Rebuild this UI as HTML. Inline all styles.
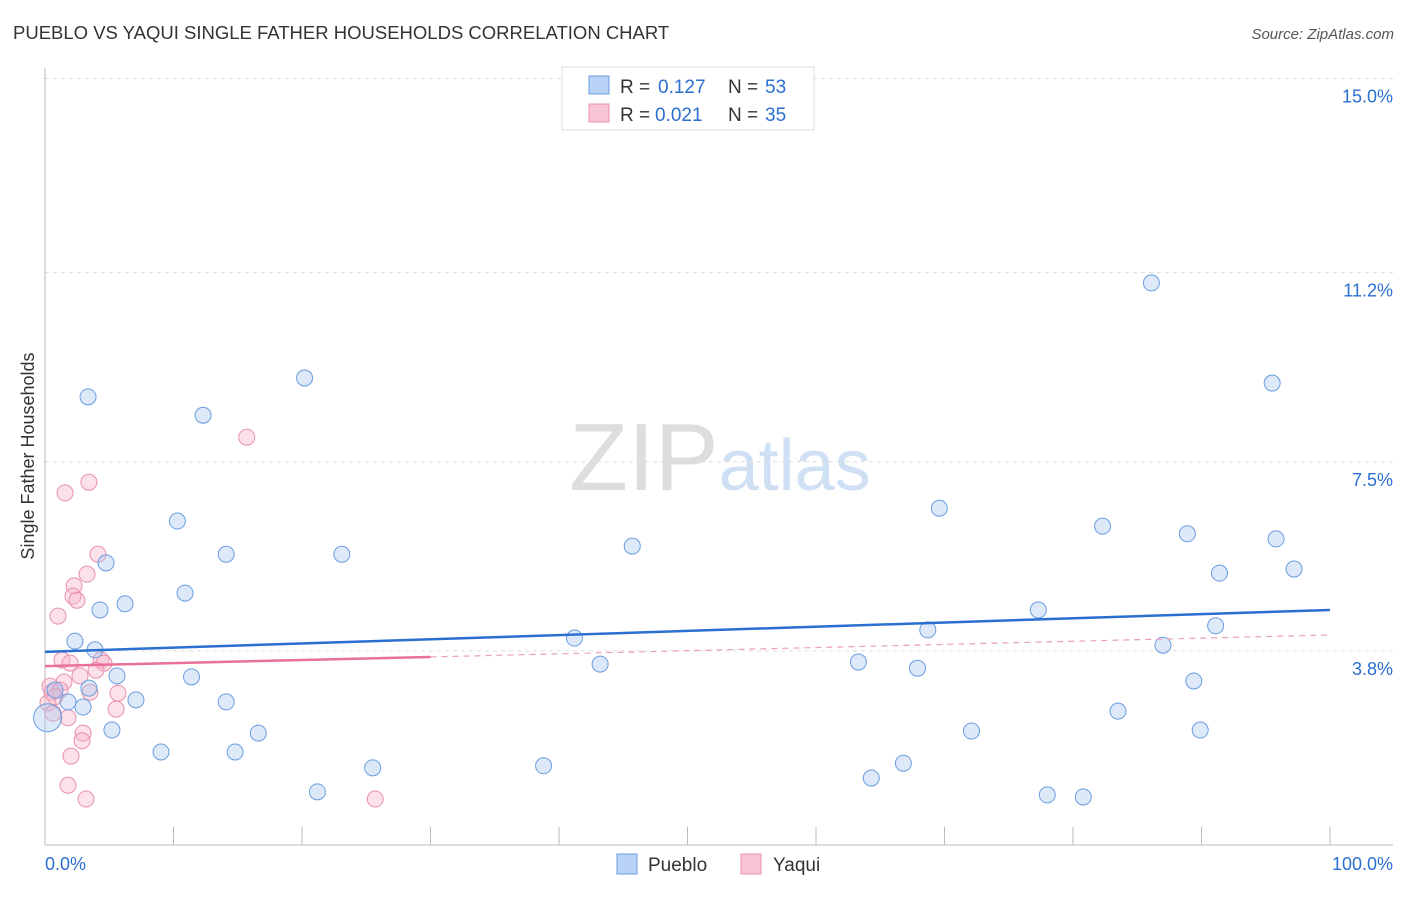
<!DOCTYPE html>
<html><head><meta charset="utf-8"><style>
body{margin:0;background:#fff;font-family:"Liberation Sans",sans-serif;}
svg text{font-family:"Liberation Sans",sans-serif;}
</style></head><body>
<svg id="chart" width="1406" height="892" xmlns="http://www.w3.org/2000/svg">
<text x="13" y="39" font-size="18.5" fill="#333">PUEBLO VS YAQUI SINGLE FATHER HOUSEHOLDS CORRELATION CHART</text>
<text x="1394" y="39" font-size="15" fill="#555" text-anchor="end" font-style="italic">Source: ZipAtlas.com</text>
<text x="720" y="490" font-size="96" text-anchor="middle" fill="#ddd" font-family="Liberation Serif">ZIP<tspan fill="#cfe0f5" font-family="Liberation Sans" font-size="72">atlas</tspan></text>
<g id="grid"></g>
<g id="axes"></g>
<g id="marks"></g>
<g id="trends"></g>
<text transform="translate(34,456) rotate(-90)" font-size="18" fill="#333" text-anchor="middle">Single Father Households</text>
<g>
<rect x="562" y="67" width="252" height="63" fill="#fff" stroke="#ddd"/>
<rect x="589" y="76" width="20" height="18" fill="#b8d3f5" stroke="#6a9de0"/>
<text x="620" y="93" font-size="19" fill="#333">R = </text>
<text x="658" y="93" font-size="19" fill="#2b6fd1">0.127</text>
<text x="728" y="93" font-size="19" fill="#333">N = </text>
<text x="765" y="93" font-size="19" fill="#2b6fd1">53</text>
<rect x="589" y="104" width="20" height="18" fill="#f8c4d4" stroke="#e890ae"/>
<text x="620" y="121" font-size="19" fill="#333">R = </text>
<text x="655" y="121" font-size="19" fill="#2b6fd1">0.021</text>
<text x="728" y="121" font-size="19" fill="#333">N = </text>
<text x="765" y="121" font-size="19" fill="#2b6fd1">35</text>
</g>
<g>
<rect x="617" y="854" width="20" height="20" fill="#b8d3f5" stroke="#6a9de0"/>
<text x="648" y="871" font-size="19" fill="#333">Pueblo</text>
<rect x="741" y="854" width="20" height="20" fill="#f8c4d4" stroke="#e890ae"/>
<text x="773" y="871" font-size="19" fill="#333">Yaqui</text>
</g>
</svg>
<script>
const yTicks=[15.0,11.2,7.5,3.8];
const yTickLabels=["15.0%","11.2%","7.5%","3.8%"];
const xTickLabels=["0.0%","100.0%"];
const puebloX=[3.35,12.3,20.2,86.1,95.5,10.3,14.1,23.1,4.75,45.7,69.6,82.3,88.9,95.8,91.4,97.2,10.9,6.23,4.28,77.3,41.2,68.7,91.1,87.0,2.33,3.89,43.2,63.3,67.9,5.60,11.4,89.4,3.42,0.78,7.08,14.1,1.79,2.96,83.5,5.21,16.6,72.1,89.9,9.03,14.8,25.5,38.8,66.8,64.3,21.2,78.0,80.8,0.2];
const puebloY=[8.77,8.41,9.14,11.0,9.04,6.34,5.69,5.69,5.52,5.85,6.59,6.24,6.09,5.99,5.32,5.40,4.93,4.72,4.60,4.60,4.05,4.21,4.29,3.91,3.99,3.82,3.54,3.58,3.46,3.31,3.29,3.21,3.07,3.03,2.84,2.80,2.80,2.70,2.62,2.25,2.19,2.23,2.25,1.82,1.82,1.51,1.55,1.60,1.31,1.04,0.98,0.94,2.49];
const yaquiX=[15.7,3.42,1.56,4.12,3.27,2.26,2.18,2.49,1.01,1.32,1.95,4.36,4.59,3.97,2.72,1.48,0.39,0.54,1.17,0.78,3.50,5.68,5.53,1.79,2.96,2.88,2.02,1.79,3.19,25.7,0.23,0.62];
const yaquiY=[7.98,7.10,6.89,5.69,5.30,5.07,4.87,4.79,4.48,3.62,3.56,3.62,3.56,3.42,3.31,3.19,3.11,2.99,3.03,2.90,2.99,2.97,2.66,2.49,2.19,2.04,1.74,1.17,0.90,0.90,2.78,2.58];
const puebloTrend=[3.78,4.60];
const yaquiTrend=[3.50,3.68,4.11];
const X=v=>45+v*12.85, Y=v=>845-v*51.1;
const NS="http://www.w3.org/2000/svg";
function mk(tag,attrs,parent){const e=document.createElementNS(NS,tag);for(const k in attrs)e.setAttribute(k,attrs[k]);parent.appendChild(e);return e;}
const grid=document.getElementById('grid'),axes=document.getElementById('axes'),marks=document.getElementById('marks'),trends=document.getElementById('trends');
yTicks.forEach((t,i)=>{
 const l=mk('line',{x1:45,x2:1393,y1:Y(t),y2:Y(t),stroke:'#ddd','stroke-dasharray':'4,4'},grid);
 
 
 const tx=mk('text',{x:1393,y:Y(t)+24,'font-size':18,fill:'#2b6fd1','text-anchor':'end'},axes);
 tx.textContent=yTickLabels[i];
 
 
});
mk('line',{x1:45,x2:45,y1:68,y2:845,stroke:'#bbb'},axes);
mk('line',{x1:45,x2:1393,y1:845,y2:845,stroke:'#bbb'},axes);
for(let i=0;i<=10;i++){const t=mk('line',{x1:X(i*10),x2:X(i*10),y1:827,y2:845,stroke:'#bbb'},axes);
 
 }
const xl0=mk('text',{x:45,y:870,'font-size':18,fill:'#2b6fd1'},axes);xl0.textContent=xTickLabels[0];


const xl1=mk('text',{x:1393,y:870,'font-size':18,fill:'#2b6fd1','text-anchor':'end'},axes);xl1.textContent=xTickLabels[1];


yaquiX.forEach((x,i)=>{const c=mk('circle',{cx:X(x),cy:Y(yaquiY[i]),r:8,fill:'rgba(248,180,200,0.4)',stroke:'#e890ae','stroke-width':1},marks);
 
 });
puebloX.forEach((x,i)=>{const big=i===puebloX.length-1;const c=mk('circle',{cx:X(x),cy:Y(puebloY[i]),r:big?14:8,fill:'rgba(170,200,240,0.4)',stroke:'#6a9de0','stroke-width':1},marks);
 
 });
const bl=mk('line',{x1:X(0),y1:Y(puebloTrend[0]),x2:X(100),y2:Y(puebloTrend[1]),stroke:'#2b6fd1','stroke-width':2.5},trends);


const pl=mk('line',{x1:X(0),y1:Y(yaquiTrend[0]),x2:X(30),y2:Y(yaquiTrend[1]),stroke:'#e8709a','stroke-width':2.5},trends);


const pd=mk('line',{x1:X(30),y1:Y(yaquiTrend[1]),x2:X(100),y2:Y(yaquiTrend[2]),stroke:'#e8a0b8','stroke-width':1.2,'stroke-dasharray':'6,5'},trends);


</script>
</body></html>
